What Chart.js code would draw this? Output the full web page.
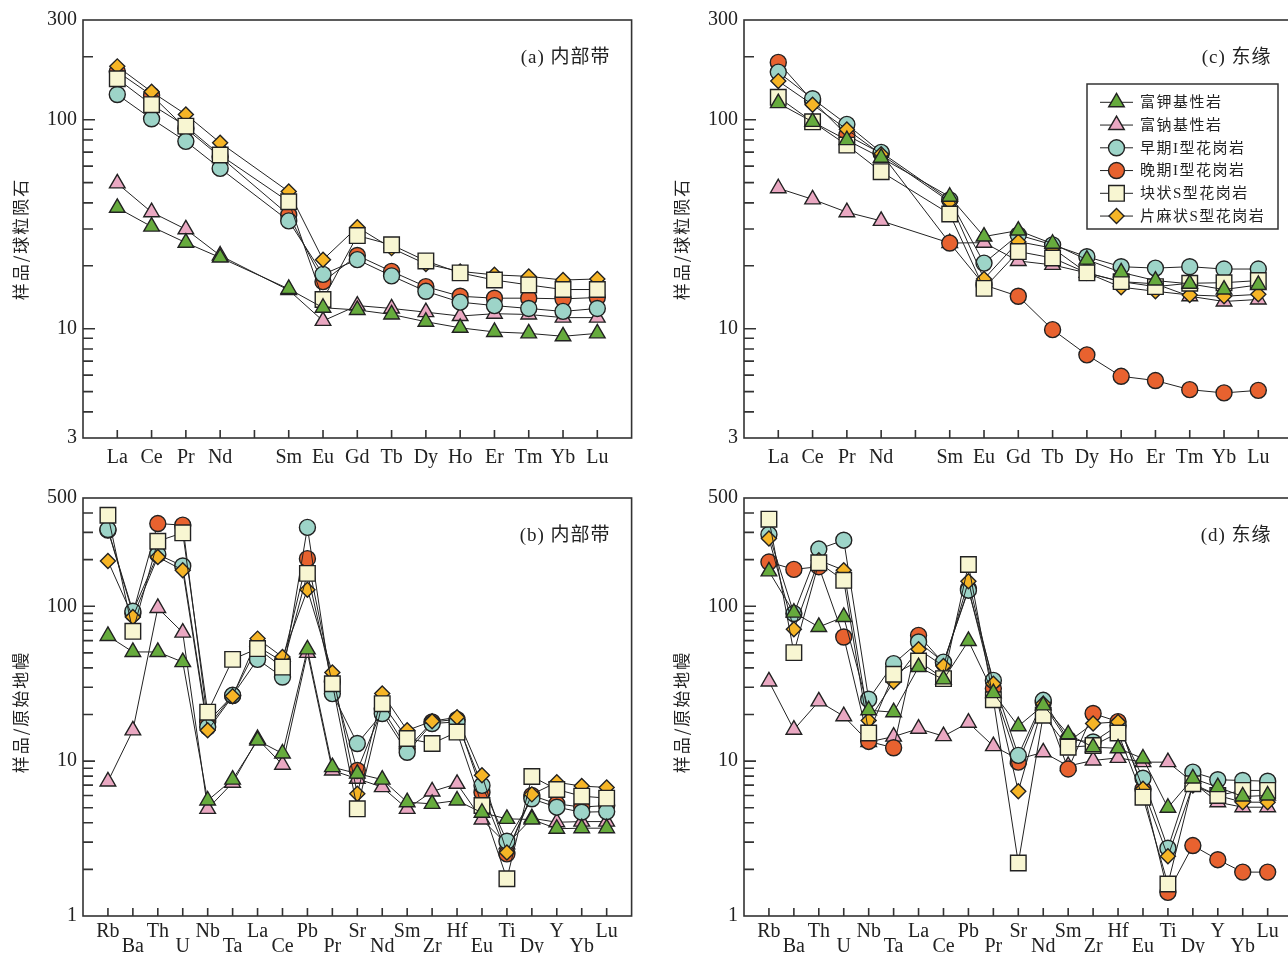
<!DOCTYPE html>
<html>
<head>
<meta charset="utf-8">
<script src="https://cdn.jsdelivr.net/npm/chart.js@4.4.1/dist/chart.umd.min.js"></script>
<style>
  html, body { margin: 0; padding: 0; background: #fff; overflow: hidden; width: 1288px; height: 953px; }
  canvas { position: absolute; }
</style>
</head>
<body>
<canvas id="chartA" width="644" height="478" style="left:0;top:0"></canvas>
<canvas id="chartC" width="644" height="478" style="left:661px;top:0"></canvas>
<canvas id="chartB" width="644" height="475" style="left:0;top:478px"></canvas>
<canvas id="chartD" width="644" height="475" style="left:661px;top:478px"></canvas>
<script>
// ---- categories & tick labels ----
const reeLabels = ['La', 'Ce', 'Pr', 'Nd', '', 'Sm', 'Eu', 'Gd', 'Tb', 'Dy', 'Ho', 'Er', 'Tm', 'Yb', 'Lu'];
const pmLabels  = ['Rb', 'Ba', 'Th', 'U', 'Nb', 'Ta', 'La', 'Ce', 'Pb', 'Pr', 'Sr', 'Nd', 'Sm', 'Zr', 'Hf', 'Eu', 'Ti', 'Dy', 'Y', 'Yb', 'Lu'];
const reeTicks = [3, 10, 100, 300];
const pmTicks  = [1, 10, 100, 500];
const seriesNames = ['富钾基性岩', '富钠基性岩', '早期I型花岗岩', '晚期I型花岗岩', '块状S型花岗岩', '片麻状S型花岗岩'];

// ---- (a) 内部带, chondrite normalised REE ----
const a_kMafic   = [37.9, 30.8, 25.8, 21.9, null, 15.5, 12.6, 12.3, 11.7, 10.8, 10.1, 9.65, 9.5, 9.2, 9.5];
const a_naMafic  = [49.6, 36.1, 29.9, 22.4, null, 15.3, 10.9, 12.9, 12.5, 12.0, 11.5, 11.8, 11.7, 11.3, 11.3];
const a_earlyI   = [132, 101, 78.8, 58.5, null, 32.8, 18.2, 21.4, 17.9, 15.1, 13.4, 12.9, 12.5, 12.1, 12.5];
const a_lateI    = [170, 131, 90.8, 66.5, null, 35, 16.8, 22.4, 18.8, 15.9, 14.3, 14.0, 14.0, 13.9, 14.1];
const a_massiveS = [157, 118, 93.2, 67.8, null, 40.5, 13.8, 27.9, 25.2, 21.1, 18.5, 17.1, 16.2, 15.4, 15.4];
const a_gneissS  = [180, 136, 106, 77.6, null, 45.3, 21.4, 30.6, 24.3, 20.4, 18.8, 18.1, 17.8, 17.1, 17.3];

// ---- (c) 东缘, chondrite normalised REE ----
const c_kMafic   = [120, 97.7, 79.9, 65.8, null, 42.8, 27.6, 29.5, 25.5, 21.4, 18.6, 17.0, 16.4, 15.4, 16.2];
const c_naMafic  = [47.0, 41.6, 36.1, 32.8, null, 25.7, 25.8, 21.1, 20.2, 18.5, 16.8, 16.4, 14.3, 13.5, 13.8];
const c_earlyI   = [169, 126, 95, 69.8, null, 41.3, 20.6, 28.1, 25.2, 22.1, 19.8, 19.5, 19.8, 19.3, 19.3];
const c_lateI    = [188, 123, 84.4, 69, null, 25.7, 16.2, 14.3, 9.9, 7.5, 5.92, 5.65, 5.11, 4.93, 5.07];
const c_massiveS = [128, 97.7, 75.6, 56.4, null, 35.4, 15.6, 23.4, 21.8, 18.5, 16.8, 15.9, 16.5, 16.6, 17.0];
const c_gneissS  = [153, 118, 89.9, 68.3, null, 40.5, 17.3, 26.1, 24.3, 18.5, 15.8, 15.1, 14.5, 14.3, 14.6];

// ---- (b) 内部带, primitive mantle normalised ----
const b_kMafic   = [64.3, 50.7, 50.7, 43.6, 5.57, 7.6, 13.6, 11.2, 52.7, 9.15, 8.3, 7.6, 5.43, 5.3, 5.57, 4.64, 4.24, 4.2, 3.66, 3.69, 3.69];
const b_naMafic  = [7.39, 15.8, 97.5, 67.6, 4.92, 7.25, 13.9, 9.48, 50, 8.7, 7.7, 6.79, 4.92, 6.37, 7.14, 4.2, 2.9, 4.28, 4.03, 4.07, 4.07];
const b_earlyI   = [313, 92.8, 216, 182, 16.6, 26.6, 45.4, 34.9, 323, 27.3, 13.0, 20.3, 11.4, 17.5, 17.9, 6.97, 3.04, 5.71, 5.04, 4.68, 4.72];
const b_lateI    = [310, 90, 342, 334, 17.9, 26.5, 55, 44, 203, 32.5, 8.7, 21.8, 12.0, 17.9, 18.6, 6.3, 2.52, 6.0, 5.3, 5.05, 5.17];
const b_massiveS = [387, 68.9, 263, 298, 20.7, 45.4, 53.3, 40.5, 163, 31.6, 4.92, 23.5, 14.0, 13.0, 15.4, 5.17, 1.74, 7.96, 6.56, 5.94, 5.77];
const b_gneissS  = [196, 85.3, 208, 171, 15.8, 26.2, 61.8, 47, 128, 37.3, 6.15, 27.3, 15.8, 18.1, 19.2, 8.1, 2.57, 6.1, 7.3, 6.9, 6.76];

// ---- (d) 东缘, primitive mantle normalised ----
const d_kMafic   = [168, 91, 73.5, 85.3, 21.3, 20.7, 40.5, 33.7, 59.7, 27.5, 16.8, 22.9, 14.9, 12.3, 12.1, 10.4, 5.0, 7.73, 6.79, 5.91, 6.0];
const d_naMafic  = [32.7, 15.96, 24.3, 19.5, 13.3, 14.4, 16.2, 14.5, 17.7, 12.5, 10.3, 11.4, 9.3, 10.1, 10.5, 9.85, 9.85, 7.3, 5.43, 5.04, 5.04];
const d_earlyI   = [291, 89.7, 234, 267, 25.1, 42.6, 58.8, 43.6, 127, 33.2, 10.9, 24.7, 13.8, 13.3, 17, 7.76, 2.74, 8.49, 7.58, 7.5, 7.42];
const d_lateI    = [193, 173, 180, 63.3, 13.4, 12.2, 64.9, 43, 130, 29.4, 9.85, 24, 8.9, 20.3, 18, 6.6, 1.42, 2.85, 2.31, 1.92, 1.92];
const d_massiveS = [365, 50.2, 191, 147, 15.2, 36.4, 44.3, 34.1, 186, 24.9, 2.2, 19.8, 12.3, 12.6, 15.2, 5.85, 1.61, 7.14, 6.0, 6.47, 6.47];
const d_gneissS  = [274, 71, 198, 171, 18.3, 32.5, 52.7, 41.1, 145, 31.6, 6.4, 23.5, 13.3, 17.5, 17.9, 6.63, 2.43, 6.97, 6.0, 5.43, 5.43];

// marker look per series (same order as seriesNames)
const seriesStyles = [
  { pointStyle: 'triangle', radius: 9,   fill: '#66ab3d', order: 0 },
  { pointStyle: 'triangle', radius: 9,   fill: '#eaa8c2', order: 5 },
  { pointStyle: 'circle',   radius: 8,   fill: '#9dd4c8', order: 3 },
  { pointStyle: 'circle',   radius: 8,   fill: '#e8622f', order: 4 },
  { pointStyle: 'rect',     radius: 11,  fill: '#f8f6d2', order: 1 },
  { pointStyle: 'rectRot',  radius: 7.5, fill: '#f6b526', order: 2 }
];

const INK = '#222';
const serif = '"Liberation Serif", "Times New Roman", serif';
const cjk = '"Liberation Serif", "Noto Sans CJK SC", sans-serif';

// frame, inward ticks, panel tag, y title, legend
const framePlugin = {
  id: 'frame',
  afterDraw(chart, args, o) {
    const { ctx, chartArea: a, scales: { x, y } } = chart;
    ctx.save();
    ctx.strokeStyle = '#333';
    ctx.lineWidth = 1.6;
    ctx.strokeRect(a.left, a.top, a.right - a.left, a.bottom - a.top);

    ctx.beginPath();
    const e0 = Math.floor(Math.log10(y.min)), e1 = Math.ceil(Math.log10(y.max));
    for (let e = e0; e <= e1; e++) {
      for (let k = 1; k <= 9; k++) {
        const v = k * Math.pow(10, e);
        if (v <= y.min * 1.0001 || v >= y.max * 0.9999) continue;
        const py = y.getPixelForValue(v);
        ctx.moveTo(a.left, py);
        ctx.lineTo(a.left + (k === 1 ? 12 : 10), py);
      }
    }
    x.ticks.forEach(t => {
      const px = x.getPixelForValue(t.value);
      ctx.moveTo(px, a.bottom);
      ctx.lineTo(px, a.bottom - 8);
    });
    ctx.stroke();

    ctx.fillStyle = INK;
    // panel tag
    ctx.font = '19px ' + cjk;
    ctx.letterSpacing = '1px';
    ctx.textAlign = 'right';
    ctx.textBaseline = 'middle';
    ctx.fillText(o.tag, a.right - 21, a.top + 38);

    // y title
    ctx.save();
    ctx.translate(o.titleX, (a.top + a.bottom) / 2 + o.titleDy);
    ctx.rotate(-Math.PI / 2);
    ctx.textAlign = 'center';
    ctx.font = '17px "Noto Sans CJK SC", sans-serif';
    ctx.letterSpacing = '2px';
    ctx.fillText(o.yTitle, 0, 0);
    ctx.restore();

    if (o.legend) {
      const lx = a.left + 343, ly = a.top + 64;
      ctx.lineWidth = 1.5;
      ctx.strokeStyle = '#333';
      ctx.strokeRect(lx, ly, 191, 145);
      ctx.font = '15px ' + cjk;
      ctx.letterSpacing = '1.5px';
      ctx.textAlign = 'left';
      chart.data.datasets.forEach((ds, i) => {
        const ry = a.top + 82.3 + 22.75 * i;
        ctx.strokeStyle = INK;
        ctx.lineWidth = 1;
        ctx.beginPath();
        ctx.moveTo(a.left + 356, ry);
        ctx.lineTo(a.left + 389, ry);
        ctx.stroke();
        ctx.fillStyle = ds.pointBackgroundColor;
        ctx.strokeStyle = INK;
        ctx.lineWidth = ds.pointBorderWidth;
        Chart.helpers.drawPoint(ctx, {
          pointStyle: ds.pointStyle, rotation: 0,
          radius: ds.pointRadius, borderWidth: ds.pointBorderWidth
        }, a.left + 372.5, ry);
        ctx.fillStyle = INK;
        ctx.fillText(ds.label, a.left + 396, ry + 1);
      });
    }
    ctx.restore();
  }
};
Chart.register(framePlugin);

function makeChart(canvasId, labels, series, yMin, yMax, yTicks, cfg) {
  const datasets = series.map((vals, k) => ({
    label: seriesNames[k],
    data: vals.map((v, i) => ({ x: i, y: v })),
    borderColor: INK,
    borderWidth: 1,
    pointStyle: seriesStyles[k].pointStyle,
    pointRadius: seriesStyles[k].radius,
    pointHoverRadius: seriesStyles[k].radius,
    pointBackgroundColor: seriesStyles[k].fill,
    pointBorderColor: INK,
    pointBorderWidth: 1.4,
    order: seriesStyles[k].order,
    spanGaps: true,
    fill: false,
    tension: 0
  }));

  return new Chart(document.getElementById(canvasId), {
    type: 'line',
    data: { datasets },
    options: {
      responsive: false,
      animation: false,
      events: [],
      layout: { padding: { left: 0, top: 20, right: 11, bottom: 0 } },
      plugins: {
        legend: { display: false },
        tooltip: { enabled: false },
        frame: { tag: cfg.tag, yTitle: cfg.yTitle, legend: cfg.legend, titleX: 21, titleDy: cfg.titleDy }
      },
      scales: {
        x: {
          type: 'linear',
          min: -1,
          max: labels.length,
          grid: { display: false, drawTicks: false },
          border: { display: false },
          afterBuildTicks: (s) => { s.ticks = labels.map((_, i) => ({ value: i })); },
          afterFit: (s) => { s.height = cfg.xAxisH; },
          ticks: {
            autoSkip: false,
            maxRotation: 0,
            padding: cfg.xPad,
            color: INK,
            font: { family: serif, size: 20, lineHeight: cfg.lineH },
            callback: (v, i) => {
              const name = labels[v] || '';
              return (cfg.stagger && i % 2 === 1) ? ['', name] : name;
            }
          }
        },
        y: {
          type: 'logarithmic',
          min: yMin,
          max: yMax,
          grid: { display: false, drawTicks: false },
          border: { display: false },
          afterBuildTicks: (s) => { s.ticks = yTicks.map(v => ({ value: v })); },
          afterFit: (s) => { s.width = 83; },
          ticks: {
            padding: 6,
            color: INK,
            font: { family: serif, size: 20 },
            callback: (v) => String(v)
          }
        }
      }
    }
  });
}

makeChart('chartA', reeLabels,
  [a_kMafic, a_naMafic, a_earlyI, a_lateI, a_massiveS, a_gneissS], 3, 300, reeTicks,
  { tag: '(a) 内部带', yTitle: '样品/球粒陨石', legend: false, titleDy: 10, xAxisH: 40, xPad: 8, lineH: 1.2, stagger: false });

makeChart('chartC', reeLabels,
  [c_kMafic, c_naMafic, c_earlyI, c_lateI, c_massiveS, c_gneissS], 3, 300, reeTicks,
  { tag: '(c) 东缘', yTitle: '样品/球粒陨石', legend: true, titleDy: 10, xAxisH: 40, xPad: 8, lineH: 1.2, stagger: false });

makeChart('chartB', pmLabels,
  [b_kMafic, b_naMafic, b_earlyI, b_lateI, b_massiveS, b_gneissS], 1, 500, pmTicks,
  { tag: '(b) 内部带', yTitle: '样品/原始地幔', legend: false, titleDy: 5, xAxisH: 37, xPad: 8, lineH: 0.75, stagger: true });

makeChart('chartD', pmLabels,
  [d_kMafic, d_naMafic, d_earlyI, d_lateI, d_massiveS, d_gneissS], 1, 500, pmTicks,
  { tag: '(d) 东缘', yTitle: '样品/原始地幔', legend: false, titleDy: 5, xAxisH: 37, xPad: 8, lineH: 0.75, stagger: true });
</script>
</body>
</html>
